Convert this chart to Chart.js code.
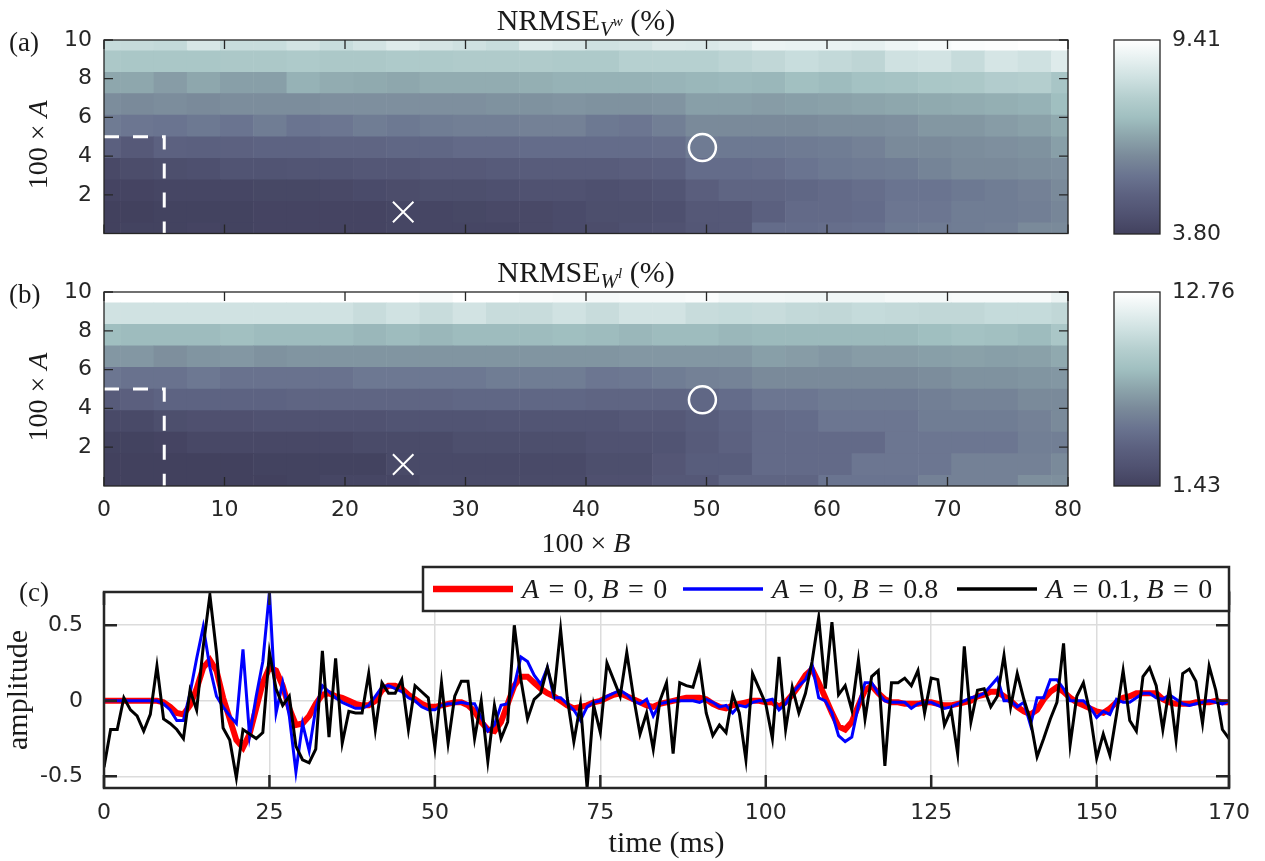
<!DOCTYPE html>
<html>
<head>
<meta charset="utf-8">
<title>NRMSE maps and waveforms</title>
<script src="https://cdn.jsdelivr.net/npm/chart.js@4.4.1/dist/chart.umd.min.js"></script>
<style>
  html, body { margin: 0; padding: 0; background: #ffffff; }
  #figure { position: relative; width: 1265px; height: 861px; overflow: hidden; background: #ffffff; }
  .panel { position: absolute; }
  .panel canvas { display: block; }
</style>
</head>
<body>
<div id="figure">
  <div class="panel" style="left:0;top:0;width:1100px;height:250px"><canvas id="mapVw"></canvas></div>
  <div class="panel" style="left:1100px;top:0;width:165px;height:250px"><canvas id="barVw"></canvas></div>
  <div class="panel" style="left:0;top:250px;width:1100px;height:310px"><canvas id="mapWl"></canvas></div>
  <div class="panel" style="left:1100px;top:250px;width:165px;height:310px"><canvas id="barWl"></canvas></div>
  <div class="panel" style="left:0;top:560px;width:1265px;height:301px"><canvas id="wave"></canvas></div>
</div>
<script>
// ---------- grid of the parameter sweep (values shown as 100 x B and 100 x A) ----------
const B_CENTERS = [0, 2.76, 5.52, 8.28, 11.03, 13.79, 16.55, 19.31, 22.07, 24.83,
                   27.59, 30.34, 33.10, 35.86, 38.62, 41.38, 44.14, 46.90, 49.66, 52.41,
                   55.17, 57.93, 60.69, 63.45, 66.21, 68.97, 71.72, 74.48, 77.24, 80.00];
const A_CENTERS = [0, 1.11, 2.22, 3.33, 4.44, 5.56, 6.67, 7.78, 8.89, 10];
const MAP_X_TICKS = [0, 10, 20, 30, 40, 50, 60, 70, 80];
const MAP_Y_TICKS = [2, 4, 6, 8, 10];

// colour limits of the two maps (%)
const CLIM_VW = [3.80, 9.41];
const CLIM_WL = [1.43, 12.76];

// NRMSE of V^w (%), one row per A (A = 0 first), one column per B
const nrmseVw = [
  [3.80,3.86,3.86,3.91,3.86,3.91,3.91,3.91,3.91,3.97,3.97,3.97,3.97,4.08,4.14,4.19,4.30,4.36,4.53,4.59,5.26,5.26,5.31,5.37,5.60,5.65,5.71,5.76,6.04,6.04],
  [3.80,3.80,3.86,3.86,3.86,3.91,3.91,3.91,3.91,3.97,3.97,4.02,4.08,4.08,4.14,4.25,4.25,4.30,4.59,4.59,4.87,5.20,5.20,5.26,5.54,5.54,5.71,5.71,5.76,5.93],
  [3.91,3.91,3.97,3.97,3.97,4.02,4.02,4.08,4.14,4.19,4.25,4.25,4.30,4.36,4.36,4.30,4.36,4.47,4.81,5.03,5.03,5.09,5.20,5.31,5.48,5.48,5.60,5.71,5.82,6.04],
  [4.08,4.19,4.25,4.30,4.42,4.42,4.47,4.47,4.53,4.53,4.64,4.64,4.70,4.75,4.75,4.75,4.81,4.87,5.26,5.26,5.31,5.48,5.60,5.65,5.71,5.88,6.04,6.04,6.10,6.16],
  [4.87,4.64,4.92,4.87,4.92,4.98,4.98,5.03,5.03,5.09,5.09,5.20,5.20,5.26,5.26,5.26,5.26,5.31,5.65,5.60,5.60,5.65,5.71,5.82,6.04,6.04,6.10,6.16,6.21,6.49],
  [5.65,5.54,5.48,5.60,5.48,5.71,5.48,5.54,5.71,5.60,5.71,5.76,5.76,5.82,5.82,5.60,5.54,5.76,6.04,6.04,6.04,6.04,6.10,6.10,6.16,6.32,6.32,6.44,6.55,6.72],
  [6.10,6.04,6.10,6.04,6.10,6.10,6.10,6.16,6.16,6.16,6.16,6.16,6.21,6.21,6.27,6.21,6.21,6.27,6.49,6.49,6.44,6.49,6.55,6.61,6.66,6.72,6.77,6.83,6.89,7.17],
  [6.66,6.66,6.44,6.66,6.49,6.49,6.89,6.77,6.72,6.66,6.77,6.77,6.77,6.83,6.89,6.89,6.89,6.94,7.00,7.05,7.00,7.22,7.11,7.28,7.33,7.45,7.50,7.67,7.73,7.39],
  [7.50,7.45,7.45,7.45,7.50,7.50,7.56,7.50,7.50,7.56,7.56,7.61,7.61,7.61,7.56,7.56,7.78,7.78,7.78,7.90,8.01,8.18,8.06,7.95,8.34,8.40,8.12,8.46,8.34,8.68],
  [8.12,8.12,8.06,8.51,8.18,8.18,8.40,8.18,8.40,8.68,8.46,8.34,8.18,8.68,8.51,8.34,8.40,8.62,8.57,8.68,8.96,8.91,8.91,8.85,9.02,9.19,9.30,9.35,9.41,9.41]
];

// NRMSE of W^l (%), same layout
const nrmseWl = [
  [1.43,1.43,1.43,1.43,1.43,1.43,1.54,1.77,1.77,1.77,2.11,2.11,2.11,2.11,2.11,2.45,2.45,3.02,3.02,3.92,3.92,3.92,4.83,4.83,4.83,5.51,5.51,5.51,6.19,6.19],
  [1.43,1.43,1.43,1.43,1.43,1.54,1.54,1.54,1.54,2.00,2.00,2.00,2.00,2.00,2.00,2.34,2.34,2.90,3.36,3.36,4.26,4.26,4.26,4.94,4.94,4.94,5.51,5.51,5.51,5.96],
  [1.54,1.54,1.66,1.88,1.88,1.88,1.88,1.88,2.11,2.11,2.11,2.34,2.34,2.34,2.34,2.56,2.56,2.68,3.24,3.70,4.26,4.26,4.26,4.26,4.94,4.94,4.94,4.94,5.40,5.40],
  [2.00,2.00,2.34,2.45,2.45,2.56,2.56,2.56,2.56,2.68,2.68,2.68,2.79,2.79,2.79,2.79,3.02,3.02,3.36,3.81,4.26,4.38,4.94,4.94,4.94,5.28,5.28,5.28,5.51,5.96],
  [3.24,3.58,3.81,3.81,3.81,3.81,3.92,3.92,3.92,3.92,3.92,4.04,4.04,4.04,4.04,3.92,3.92,3.92,4.04,4.38,4.94,4.94,5.17,5.17,5.17,5.40,5.62,5.62,5.96,5.96],
  [4.94,4.72,4.72,5.06,4.72,4.72,4.72,4.72,5.06,5.06,5.06,5.06,5.28,5.28,5.28,4.94,5.06,5.28,5.51,5.62,5.96,5.96,5.96,5.96,5.96,6.08,6.30,6.30,6.42,6.53],
  [6.53,6.53,6.19,6.42,6.53,6.30,6.42,6.42,6.42,6.42,6.42,6.42,6.42,6.42,6.42,6.42,6.53,6.53,6.53,6.53,6.87,6.76,6.53,6.76,6.76,6.87,6.98,6.87,6.98,7.32],
  [8.23,8.11,8.11,8.11,8.34,8.11,8.11,8.11,7.89,8.11,7.89,8.11,8.11,8.11,8.23,8.11,7.89,8.11,8.11,7.89,8.00,8.00,8.00,8.00,8.00,8.23,8.45,8.34,8.11,8.79],
  [10.61,10.61,10.61,10.61,10.61,10.61,10.61,10.61,10.27,10.61,10.27,10.72,10.27,10.27,10.61,10.27,10.72,10.72,10.27,10.15,10.27,10.04,9.93,10.15,10.04,9.93,9.93,10.15,10.15,9.93],
  [12.76,12.76,12.76,12.76,12.76,12.76,12.76,12.76,12.76,12.76,12.42,12.76,12.76,12.53,12.42,12.31,12.42,12.42,12.53,12.19,12.19,12.08,12.08,12.08,12.31,12.31,12.42,12.42,12.42,11.85]
];

// marked settings on both maps, as [100 x B, 100 x A]
const CIRCLE_MARK = [49.66, 4.44];
const CROSS_MARK = [24.83, 1.11];
const REGION_CORNER = [5, 5];

// ---------- waveforms, sampled every 1 ms ----------
const timeMs = Array.from({ length: 171 }, (_, i) => i);
const TIME_TICKS = [0, 25, 50, 75, 100, 125, 150, 170];
const AMP_TICKS = [-0.5, 0, 0.5];

const SERIES_A = [0, 0, 0.1];
const SERIES_B = [0, 0.8, 0];

const ampA0B0 = [
  0,0,0,0,0,0,0,0,0,-0.01,
  -0.04,-0.08,-0.09,-0.03,0.08,0.22,0.27,0.20,0.02,-0.12,
  -0.26,-0.31,-0.22,-0.05,0.12,0.22,0.20,0.10,-0.05,-0.16,
  -0.15,-0.10,-0.02,0.04,0.05,0.03,0.02,0.00,-0.02,-0.03,
  -0.03,0.00,0.07,0.10,0.10,0.08,0.04,0.01,-0.02,-0.04,
  -0.04,-0.03,-0.02,-0.01,-0.01,-0.03,-0.07,-0.14,-0.19,-0.20,
  -0.14,-0.02,0.10,0.16,0.16,0.12,0.08,0.05,0.03,0.00,
  -0.03,-0.05,-0.04,-0.03,-0.01,0.00,0.02,0.04,0.05,0.03,
  0.01,-0.01,-0.03,-0.04,-0.02,-0.01,0.00,0.01,0.02,0.02,
  0.02,0.01,-0.02,-0.04,-0.05,-0.03,-0.02,-0.01,0.00,0.00,
  -0.01,-0.01,-0.04,-0.01,0.04,0.10,0.17,0.21,0.12,0.02,
  -0.08,-0.17,-0.19,-0.14,-0.03,0.07,0.10,0.05,0.01,-0.01,
  -0.01,-0.02,-0.02,-0.02,-0.01,-0.01,-0.02,-0.03,-0.03,-0.02,
  -0.01,0.00,0.03,0.04,0.06,0.06,0.03,0.00,-0.04,-0.07,
  -0.09,-0.06,0.01,0.06,0.09,0.06,0.02,-0.01,-0.03,-0.05,
  -0.07,-0.08,-0.05,-0.01,0.02,0.03,0.05,0.05,0.05,0.05,
  0.01,-0.01,-0.02,-0.02,-0.02,-0.01,-0.01,-0.01,0.00,-0.01,
  -0.01
];

const ampA0B08 = [
  0,0,0,0,0,0,0,0,0,-0.02,
  -0.06,-0.13,-0.13,0.05,0.28,0.49,0.22,0.03,-0.04,-0.10,
  -0.15,0.34,-0.23,0.03,0.26,0.72,-0.08,0.12,-0.10,-0.47,
  -0.15,-0.33,-0.05,0.10,0.06,0.02,-0.01,-0.03,-0.05,-0.05,
  -0.03,0.03,0.09,0.10,0.08,0.06,0.02,0.00,-0.04,-0.06,
  -0.06,-0.03,-0.02,-0.02,-0.01,-0.02,-0.02,-0.11,-0.20,-0.16,
  -0.03,-0.02,0.10,0.29,0.26,0.17,0.11,0.22,0.02,0.02,
  -0.02,-0.06,-0.13,-0.04,-0.01,0.00,0.03,0.05,0.07,0.04,
  0.00,-0.02,0.01,-0.10,-0.02,-0.01,0.00,0.00,0.00,0.00,
  -0.01,0.01,-0.01,-0.04,-0.03,-0.08,-0.03,-0.04,-0.01,0.00,
  0.00,0.01,-0.06,-0.02,0.05,0.10,0.14,0.24,0.02,0.00,
  -0.08,-0.23,-0.27,-0.24,-0.03,0.12,0.12,0.05,0.00,-0.01,
  -0.01,-0.01,-0.05,-0.02,-0.01,-0.01,-0.03,-0.05,-0.04,-0.02,
  0.00,0.02,0.03,0.05,0.10,0.15,0.00,0.00,-0.04,-0.01,
  -0.16,0.02,0.02,0.14,0.14,0.08,0.00,0.00,0.00,-0.04,
  -0.11,-0.07,-0.09,0.01,-0.01,-0.01,0.02,0.05,0.05,0.02,
  0.01,0.04,0.01,-0.02,-0.03,-0.02,-0.01,0.00,-0.01,-0.02,
  0.00
];

const ampA01B0 = [
  -0.44,-0.19,-0.19,0.02,-0.06,-0.10,-0.20,-0.09,0.23,-0.12,
  -0.15,-0.19,-0.25,0.07,-0.06,0.36,0.70,0.32,-0.18,-0.26,
  -0.51,-0.19,-0.22,-0.25,-0.21,0.32,0.08,-0.03,0.03,-0.30,
  -0.39,-0.41,-0.32,0.33,-0.24,0.28,-0.28,-0.07,-0.08,-0.08,
  0.18,-0.19,0.12,0.05,0.05,0.14,-0.19,0.10,0.06,0.02,
  -0.31,0.12,-0.28,0.03,0.13,0.13,-0.25,0.00,-0.40,-0.03,
  -0.25,-0.14,0.50,0.14,-0.12,0.01,0.05,0.22,0.05,0.47,
  0.02,-0.27,-0.02,-0.577,-0.03,-0.21,0.25,0.14,0.03,0.32,
  0.03,-0.22,-0.08,-0.32,0.00,0.12,-0.35,0.12,0.10,0.09,
  0.24,-0.08,-0.23,-0.16,-0.21,0.04,-0.08,-0.39,0.18,0.08,
  -0.02,-0.25,0.29,-0.19,0.09,-0.08,0.05,0.26,0.55,0.08,
  0.52,0.04,0.10,-0.06,0.27,-0.12,0.16,0.20,-0.43,0.12,
  0.12,0.15,0.10,0.20,-0.08,0.15,0.14,-0.16,-0.06,-0.35,
  0.36,-0.14,0.07,0.08,-0.04,0.03,0.30,-0.04,0.18,0.01,
  -0.13,-0.37,-0.25,-0.12,-0.01,0.38,-0.29,0.03,0.12,-0.08,
  -0.38,-0.22,-0.36,-0.09,0.20,-0.13,-0.20,0.16,0.22,0.10,
  -0.19,0.09,-0.26,0.18,0.21,0.13,-0.15,0.23,0.07,-0.19,
  -0.25
];

// ---------- shared look ----------
const INK = '#262626';
const SANS = "'DejaVu Sans', sans-serif";
const SERIF = "'Liberation Serif', 'Times New Roman', serif";

Chart.defaults.font.family = SANS;
Chart.defaults.font.size = 22;
Chart.defaults.color = INK;
Chart.defaults.animation = false;
Chart.defaults.events = [];
Chart.defaults.plugins.legend.display = false;
Chart.defaults.plugins.tooltip.enabled = false;

// slate -> sea-grey -> white colour map
const CMAP = [
  [0.0, [66, 65, 94]], [0.1, [80, 82, 113]], [0.2, [92, 97, 128]], [0.3, [106, 116, 144]],
  [0.4, [122, 138, 154]], [0.5, [140, 164, 171]], [0.6, [160, 191, 192]], [0.7, [180, 206, 206]],
  [0.8, [205, 224, 224]], [0.9, [230, 240, 240]], [1.0, [255, 255, 255]]
];

function mapColor(v, clim) {
  let t = (v - clim[0]) / (clim[1] - clim[0]);
  t = Math.max(0, Math.min(1, t));
  for (let i = 1; i < CMAP.length; i++) {
    if (t <= CMAP[i][0]) {
      const [t0, c0] = CMAP[i - 1], [t1, c1] = CMAP[i];
      const f = (t - t0) / (t1 - t0);
      const c = c0.map((x, k) => Math.round(x + (c1[k] - x) * f));
      return `rgb(${c[0]},${c[1]},${c[2]})`;
    }
  }
  return 'rgb(255,255,255)';
}

// fixed axis sizes, no extra room reserved for end labels
function fixWidth(w) {
  return s => { s.width = w; s.paddingTop = 0; s.paddingBottom = 0; s.paddingLeft = 0; s.paddingRight = 0; };
}
function fixHeight(h) {
  return s => { s.height = h; s.paddingTop = 0; s.paddingBottom = 0; s.paddingLeft = 0; s.paddingRight = 0; };
}

// text made of upright / italic / raised or lowered pieces
function R(text, size, italic, dy) { return { text, size, italic: !!italic, dy: dy || 0 }; }
function drawRich(ctx, runs, x, y, align, angle, color) {
  ctx.save();
  ctx.translate(x, y);
  if (angle) ctx.rotate(angle);
  let total = 0;
  for (const r of runs) {
    ctx.font = (r.italic ? 'italic ' : '') + r.size + 'px ' + SERIF;
    r.w = ctx.measureText(r.text).width;
    total += r.w;
  }
  let cx = align === 'center' ? -total / 2 : (align === 'right' ? -total : 0);
  ctx.textAlign = 'left';
  ctx.textBaseline = 'alphabetic';
  ctx.fillStyle = color || '#1a1a1a';
  for (const r of runs) {
    ctx.font = (r.italic ? 'italic ' : '') + r.size + 'px ' + SERIF;
    ctx.fillText(r.text, cx, r.dy);
    cx += r.w;
  }
  ctx.restore();
}

// axes box with inward tick marks on all four sides
function drawFrame(chart, o) {
  const { ctx, chartArea: a, scales } = chart;
  ctx.save();
  ctx.strokeStyle = INK;
  ctx.lineWidth = o.tickWidth;
  ctx.beginPath();
  for (const v of o.xTicks) {
    const x = scales.x.getPixelForValue(v);
    ctx.moveTo(x, a.bottom); ctx.lineTo(x, a.bottom - o.len);
    ctx.moveTo(x, a.top); ctx.lineTo(x, a.top + o.len);
  }
  for (const v of o.yTicks) {
    const y = scales.y.getPixelForValue(v);
    ctx.moveTo(a.left, y); ctx.lineTo(a.left + o.len, y);
    ctx.moveTo(a.right, y); ctx.lineTo(a.right - o.len, y);
  }
  ctx.stroke();
  ctx.lineWidth = o.boxWidth;
  ctx.strokeRect(a.left, a.top, a.right - a.left, a.bottom - a.top);
  ctx.restore();
}

function yLabelRuns() { return [R('100 × ', 28), R('A', 28, true)]; }

// ---------- heat maps ----------
function heatmap(canvasId, grid, clim, cfg) {
  const half = (A_CENTERS[1] - A_CENTERS[0]) / 2;
  const cells = grid.map((row, r) => ({
    type: 'bar',
    order: 2,
    grouped: false,
    clip: 0,
    barPercentage: 1,
    categoryPercentage: 1,
    borderWidth: 0,
    data: B_CENTERS.map(b => ({ x: b, y: [A_CENTERS[r] - half, A_CENTERS[r] + half] })),
    backgroundColor: row.map(v => mapColor(v, clim))
  }));
  const marks = [
    {
      type: 'line', order: 0,
      data: [{ x: 0, y: REGION_CORNER[1] }, { x: REGION_CORNER[0], y: REGION_CORNER[1] }, { x: REGION_CORNER[0], y: 0 }],
      borderColor: '#ffffff', borderWidth: 3, borderDash: [15, 14], borderCapStyle: 'butt',
      pointRadius: 0, fill: false, tension: 0
    },
    {
      type: 'scatter', order: 0,
      data: [{ x: CROSS_MARK[0], y: CROSS_MARK[1] }],
      pointStyle: 'crossRot', pointRadius: 14.5, pointBorderWidth: 2, borderWidth: 2,
      pointBorderColor: '#ffffff', borderColor: '#ffffff', pointBackgroundColor: 'rgba(0,0,0,0)'
    },
    {
      type: 'scatter', order: 0,
      data: [{ x: CIRCLE_MARK[0], y: CIRCLE_MARK[1] }],
      pointStyle: 'circle', pointRadius: 13.5, pointBorderWidth: 2.5, borderWidth: 2.5,
      pointBorderColor: '#ffffff', borderColor: '#ffffff', pointBackgroundColor: 'rgba(0,0,0,0)'
    }
  ];
  const decor = {
    id: 'mapDecor',
    afterDraw(chart) {
      const ctx = chart.ctx, a = chart.chartArea;
      drawFrame(chart, { xTicks: MAP_X_TICKS, yTicks: MAP_Y_TICKS, len: 9, tickWidth: 1.3, boxWidth: 1.3 });
      drawRich(ctx, cfg.title, (a.left + a.right) / 2, a.top - 10, 'center');
      drawRich(ctx, [R('(' + cfg.letter + ')', 27)], 9, a.top + 11, 'left');
      drawRich(ctx, yLabelRuns(), 47, (a.top + a.bottom) / 2 + 8, 'center', -Math.PI / 2);
      if (cfg.xTitle) drawRich(ctx, [R('100 × ', 28), R('B', 28, true)], (a.left + a.right) / 2, a.bottom + 66, 'center');
    }
  };
  return new Chart(document.getElementById(canvasId), {
    type: 'bar',
    data: { datasets: [...marks, ...cells] },
    options: {
      responsive: true,
      maintainAspectRatio: false,
      layout: { padding: { left: 0, right: 32, top: cfg.top, bottom: 0 } },
      scales: {
        x: {
          type: 'linear', min: 0, max: 80, offset: false,
          grid: { display: false, drawTicks: false }, border: { display: false },
          afterBuildTicks: s => { s.ticks = MAP_X_TICKS.map(v => ({ value: v })); },
          ticks: { display: cfg.xLabels, padding: 11, maxRotation: 0, minRotation: 0, autoSkip: false },
          afterFit: fixHeight(cfg.xHeight)
        },
        y: {
          type: 'linear', min: 0, max: 10,
          grid: { display: false, drawTicks: false }, border: { display: false },
          afterBuildTicks: s => { s.ticks = MAP_Y_TICKS.map(v => ({ value: v })); },
          ticks: { padding: 12, autoSkip: false },
          afterFit: fixWidth(104)
        }
      }
    },
    plugins: [decor]
  });
}

// ---------- colour bars ----------
function colorbar(canvasId, clim, cfg) {
  const frame = {
    id: 'cbFrame',
    afterDraw(chart) {
      const { ctx, chartArea: a } = chart;
      ctx.save();
      ctx.strokeStyle = INK;
      ctx.lineWidth = 1.3;
      ctx.strokeRect(a.left, a.top, a.right - a.left, a.bottom - a.top);
      ctx.restore();
    }
  };
  return new Chart(document.getElementById(canvasId), {
    type: 'bar',
    data: {
      labels: [''],
      datasets: [{
        data: [[clim[0], clim[1]]],
        barPercentage: 1, categoryPercentage: 1, borderWidth: 0, clip: 0,
        backgroundColor: (c) => {
          const area = c.chart.chartArea;
          if (!area) return mapColor(clim[0], clim);
          const g = c.chart.ctx.createLinearGradient(0, area.bottom, 0, area.top);
          CMAP.forEach(([t, rgb]) => g.addColorStop(t, `rgb(${rgb[0]},${rgb[1]},${rgb[2]})`));
          return g;
        }
      }]
    },
    options: {
      responsive: true,
      maintainAspectRatio: false,
      layout: { padding: { left: 14, right: 0, top: cfg.top, bottom: cfg.bottom } },
      scales: {
        x: { display: false },
        y: {
          position: 'right', min: clim[0], max: clim[1],
          grid: { display: false, drawTicks: false }, border: { display: false },
          afterBuildTicks: s => { s.ticks = clim.map(v => ({ value: v })); },
          ticks: { padding: 12, autoSkip: false, callback: v => Number(v).toFixed(2) },
          afterFit: fixWidth(105)
        }
      }
    },
    plugins: [frame]
  });
}

heatmap('mapVw', nrmseVw, CLIM_VW, {
  title: [R('NRMSE', 30), R('V', 21, true, 6), R('w', 15, true, -4), R(' (%)', 30)],
  letter: 'a', top: 40, xHeight: 16, xLabels: false
});
colorbar('barVw', CLIM_VW, { top: 40, bottom: 16 });

heatmap('mapWl', nrmseWl, CLIM_WL, {
  title: [R('NRMSE', 30), R('W', 21, true, 6), R('l', 15, true, -4), R(' (%)', 30)],
  letter: 'b', top: 42, xHeight: 74, xLabels: true, xTitle: true
});
colorbar('barWl', CLIM_WL, { top: 42, bottom: 74 });

// ---------- waveforms ----------
const waveSeries = [ampA0B0, ampA0B08, ampA01B0];
const WAVE_COLORS = ['#ff0000', '#0000ff', '#000000'];
const WAVE_WIDTHS = [6, 3, 3];
const allAmp = waveSeries.flat();
const ampMin = Math.min(...allAmp);
const ampMax = Math.max(...allAmp);

function legendRuns(a, b) {
  const sp = '\u2004=\u2004';
  return [R('A', 28, true), R(sp + a + ', ', 28), R('B', 28, true), R(sp + b, 28)];
}
const LEGEND_X = [433, 683, 957];

const waveDecor = {
  id: 'waveDecor',
  afterDraw(chart) {
    const ctx = chart.ctx, a = chart.chartArea;
    drawFrame(chart, { xTicks: TIME_TICKS, yTicks: AMP_TICKS, len: 13, tickWidth: 2.5, boxWidth: 2.5 });
    drawRich(ctx, [R('(c)', 27)], 19, 41, 'left');
    drawRich(ctx, [R('amplitude', 30)], 27, (a.top + a.bottom) / 2, 'center', -Math.PI / 2);
    drawRich(ctx, [R('time (ms)', 30)], (a.left + a.right) / 2, 292, 'center');

    // legend box across the top edge of the axes
    const lx = 423, ly = 7, lw = a.right - lx, lh = 44;
    ctx.save();
    ctx.fillStyle = '#ffffff';
    ctx.fillRect(lx, ly, lw, lh);
    ctx.strokeStyle = INK;
    ctx.lineWidth = 2.5;
    ctx.strokeRect(lx, ly, lw, lh);
    for (let i = 0; i < waveSeries.length; i++) {
      const x0 = LEGEND_X[i];
      ctx.strokeStyle = WAVE_COLORS[i];
      ctx.lineWidth = WAVE_WIDTHS[i] + 0.5;
      ctx.beginPath();
      ctx.moveTo(x0, ly + lh / 2);
      ctx.lineTo(x0 + 80, ly + lh / 2);
      ctx.stroke();
      drawRich(ctx, legendRuns(SERIES_A[i], SERIES_B[i]), x0 + 89, ly + lh / 2 + 9, 'left');
    }
    ctx.restore();
  }
};

new Chart(document.getElementById('wave'), {
  type: 'line',
  data: {
    datasets: waveSeries.map((s, i) => ({
      label: 'A = ' + SERIES_A[i] + ', B = ' + SERIES_B[i],
      data: s.map((v, k) => ({ x: timeMs[k], y: v })),
      borderColor: WAVE_COLORS[i],
      borderWidth: WAVE_WIDTHS[i],
      pointRadius: 0,
      tension: 0,
      fill: false,
      order: 3 - i
    }))
  },
  options: {
    responsive: true,
    maintainAspectRatio: false,
    layout: { padding: { left: 0, right: 36, top: 32, bottom: 0 } },
    scales: {
      x: {
        type: 'linear', min: 0, max: 170,
        grid: { color: '#dcdcdc', lineWidth: 1.5, drawTicks: false }, border: { display: false },
        afterBuildTicks: s => { s.ticks = TIME_TICKS.map(v => ({ value: v })); },
        ticks: { padding: 12, maxRotation: 0, minRotation: 0, autoSkip: false },
        afterFit: fixHeight(73)
      },
      y: {
        type: 'linear', min: ampMin, max: ampMax,
        grid: { color: '#dcdcdc', lineWidth: 1.5, drawTicks: false }, border: { display: false },
        afterBuildTicks: s => { s.ticks = AMP_TICKS.map(v => ({ value: v })); },
        ticks: { padding: 21, autoSkip: false, callback: v => String(v) },
        afterFit: fixWidth(104)
      }
    }
  },
  plugins: [waveDecor]
});
</script>
</body>
</html>
